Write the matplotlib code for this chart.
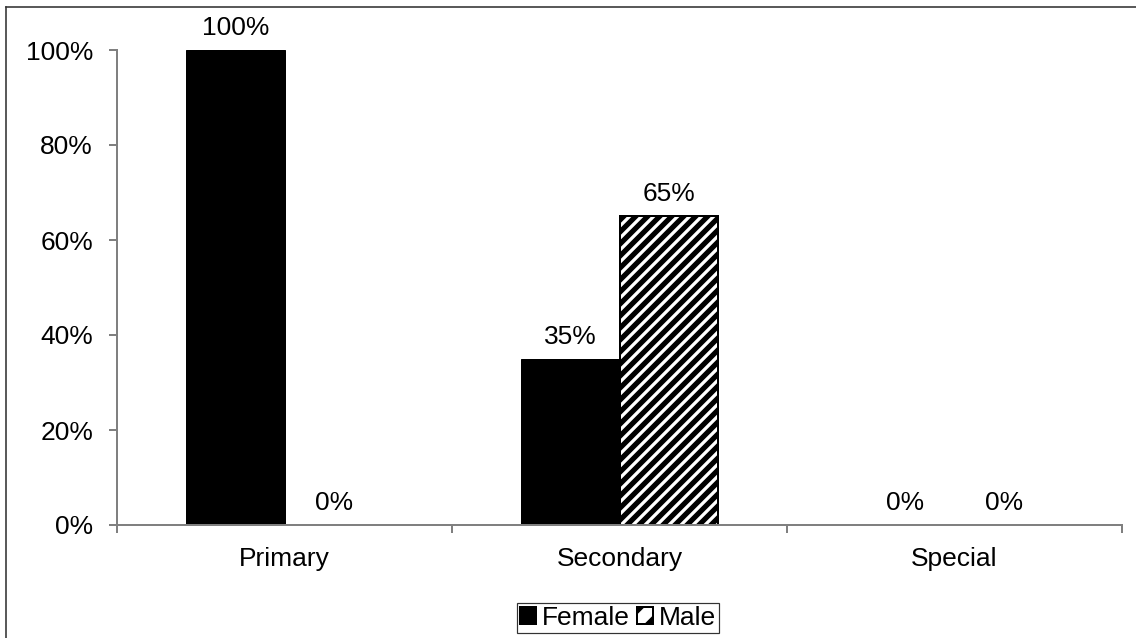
import matplotlib
matplotlib.use("Agg")
import matplotlib.pyplot as plt
from matplotlib.lines import Line2D
from matplotlib.patches import Patch
import numpy as np

categories = ["Primary", "Secondary", "Special"]
female = [100, 35, 0]
male = [0, 65, 0]
yticks = [0, 20, 40, 60, 80, 100]

DPI = 144
W, H = 1136, 638
plt.rcParams["font.family"] = ["Liberation Sans", "DejaVu Sans"]
plt.rcParams["hatch.linewidth"] = 2.6
plt.rcParams["hatch.color"] = "black"

fig = plt.figure(figsize=(W / DPI, H / DPI), dpi=DPI)
ax = fig.add_axes([117 / W, 1 - 525 / H, (1122 - 117) / W, (525 - 50) / H])

fs = 13.2
x = np.arange(len(categories))
w = 0.293

bf = ax.bar(x - w / 2, female, width=w, color="black", edgecolor="black", linewidth=0.5)
bm = ax.bar(x + w / 2, male, width=w, color="white", edgecolor="black",
            linewidth=1.0, hatch="////")

for bars, vals in ((bf, female), (bm, male)):
    for b, v in zip(bars, vals):
        ax.annotate(f"{v}%", (b.get_x() + b.get_width() / 2, v),
                    xytext=(0, 5), textcoords="offset points",
                    ha="center", va="bottom", fontsize=fs)

ax.set_xlim(-0.5, 2.5)
ax.set_ylim(0, 100)
ax.set_yticks(yticks)
ax.set_yticklabels([f"{t}%" for t in yticks], fontsize=fs)
ax.set_xticks(x)
ax.set_xticklabels(categories, fontsize=fs)
ax.set_xticks(np.arange(-0.5, 3.0, 1.0), minor=True)

spine_c = "#808080"
for s in ("top", "right"):
    ax.spines[s].set_visible(False)
for s in ("left", "bottom"):
    ax.spines[s].set_color(spine_c)
    ax.spines[s].set_linewidth(1.0)

ax.tick_params(axis="y", direction="out", length=4, width=1.0, color=spine_c, pad=8)
ax.tick_params(axis="x", which="major", length=0, pad=11)
ax.tick_params(axis="x", which="minor", direction="out", length=4, width=1.0, color=spine_c)

# outer chart frame
fig.add_artist(Line2D([6 / W, 1.0], [1 - 7 / H, 1 - 7 / H], color="#333333",
                      linewidth=0.8, transform=fig.transFigure))
fig.add_artist(Line2D([6 / W, 6 / W], [0.0, 1 - 7 / H], color="#333333",
                      linewidth=0.8, transform=fig.transFigure))

handles = [Patch(facecolor="black", edgecolor="black"),
           Patch(facecolor="white", edgecolor="black", hatch="//")]
leg = fig.legend(handles, ["Female", "Male"], loc="center",
                 bbox_to_anchor=(618 / W, 1 - 618 / H), ncol=2, fontsize=fs,
                 frameon=True, fancybox=False, handlelength=0.6, handleheight=0.6,
                 handletextpad=0.2, columnspacing=0.3, borderpad=0.12,
                 borderaxespad=0)
leg.get_frame().set_edgecolor("black")
leg.get_frame().set_linewidth(0.6)

fig.savefig("out.png", dpi=DPI)
